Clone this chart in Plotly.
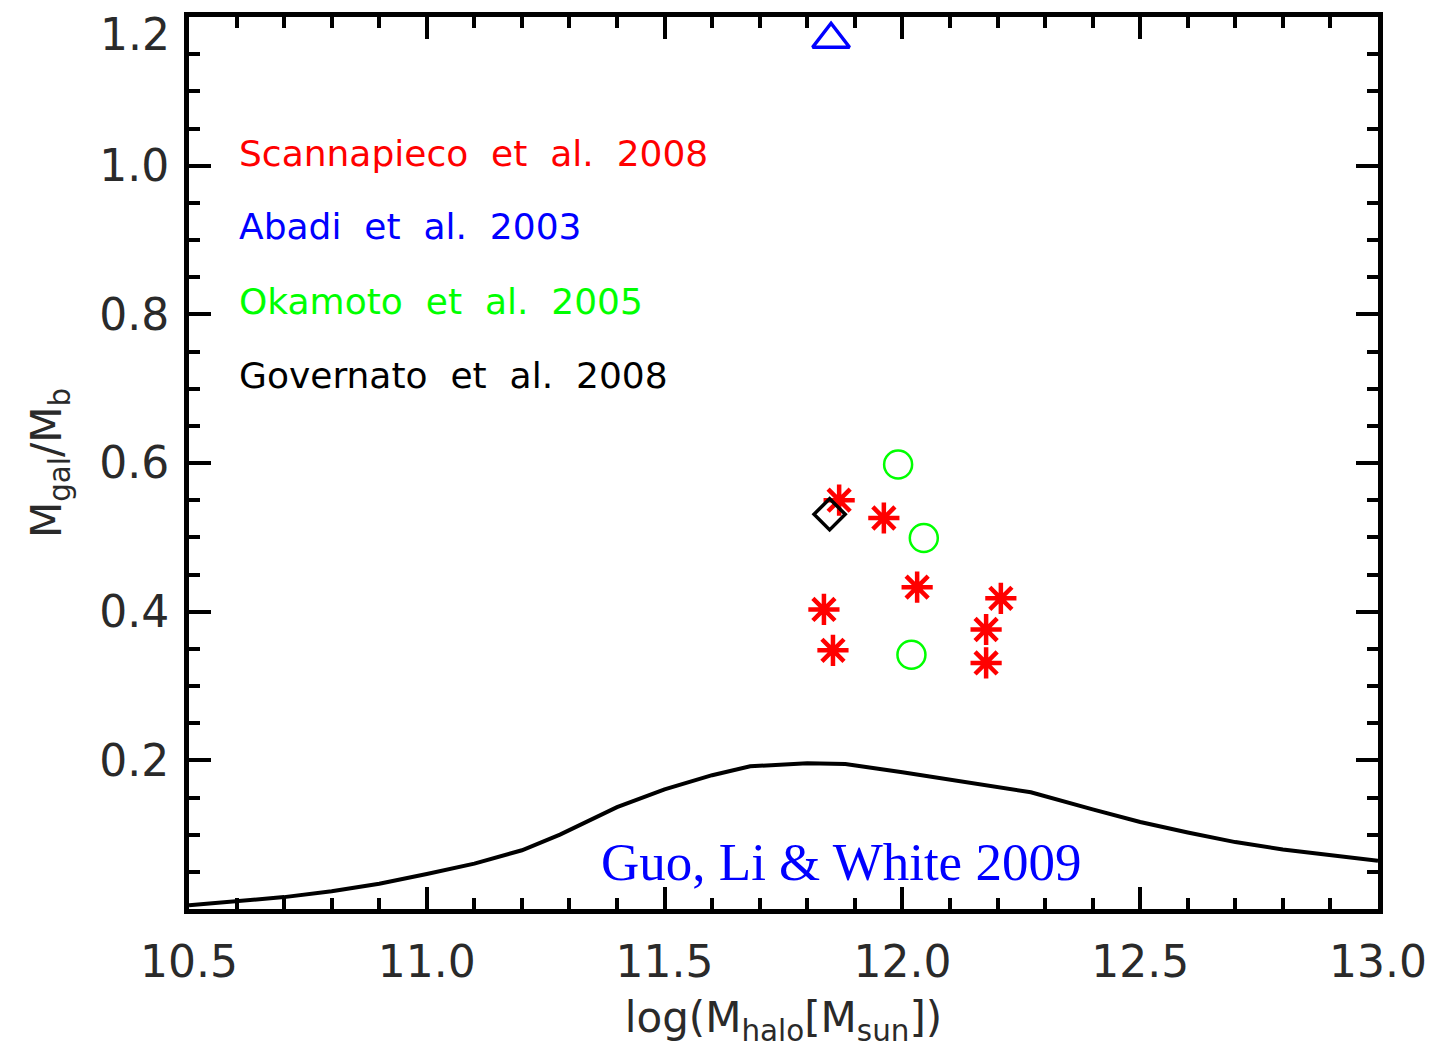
import plotly.graph_objects as go

# Guo, Li & White (2009) abundance-matching relation: M_gal/M_b vs log halo mass
curve_logm = [10.5, 10.6, 10.7, 10.8, 10.9, 11.0, 11.1, 11.2, 11.28, 11.4, 11.5, 11.6,
              11.68, 11.8, 11.88, 12.0, 12.1, 12.2, 12.27, 12.4, 12.5, 12.6, 12.7,
              12.8, 12.9, 13.0]
curve_frac = [0.005, 0.010, 0.016, 0.024, 0.034, 0.047, 0.061, 0.079, 0.100, 0.137,
              0.161, 0.180, 0.192, 0.196, 0.195, 0.184, 0.174, 0.164, 0.157, 0.134,
              0.117, 0.103, 0.090, 0.080, 0.072, 0.065]

# Simulated galaxies
scannapieco_logm = [11.867, 11.961, 12.031, 12.207, 11.835, 12.176, 11.854, 12.176]
scannapieco_frac = [0.550, 0.526, 0.433, 0.418, 0.403, 0.376, 0.348, 0.331]

abadi_logm = [11.85]
abadi_frac = [1.17]

okamoto_logm = [11.991, 12.045, 12.019]
okamoto_frac = [0.598, 0.499, 0.342]

governato_logm = [11.847]
governato_frac = [0.531]

# Axis ticks
x_ticks = [10.5, 11.0, 11.5, 12.0, 12.5, 13.0]
x_ticktext = ["10.5", "11.0", "11.5", "12.0", "12.5", "13.0"]
y_ticks = [0.2, 0.4, 0.6, 0.8, 1.0, 1.2]
y_ticktext = ["0.2", "0.4", "0.6", "0.8", "1.0", ""]

# Labels
sim_names = ["Scannapieco  et  al.  2008", "Abadi  et  al.  2003",
             "Okamoto  et  al.  2005", "Governato  et  al.  2008"]
sim_colors = ["#ff0000", "#0000ff", "#00ff00", "#000000"]
sim_label_y = [1.017, 0.918, 0.8176, 0.7172]
credit = "Guo, Li & White 2009"

sans = "DejaVu Sans"
ink = "#2a2a2a"
tick_size = 44

fig = go.Figure()

fig.add_trace(go.Scatter(x=curve_logm, y=curve_frac, mode="lines",
                         line=dict(color="black", width=4), hoverinfo="skip"))

fig.add_trace(go.Scatter(x=scannapieco_logm, y=scannapieco_frac, mode="markers",
                         marker=dict(symbol="asterisk-open", size=26, color="#ff0000",
                                     line=dict(color="#ff0000", width=4.5))))
fig.add_trace(go.Scatter(x=abadi_logm, y=abadi_frac, mode="markers",
                         marker=dict(symbol="triangle-up-open", size=32, color="#0000ff",
                                     line=dict(color="#0000ff", width=3.5))))
fig.add_trace(go.Scatter(x=okamoto_logm, y=okamoto_frac, mode="markers",
                         marker=dict(symbol="circle-open", size=28, color="#00ff00",
                                     line=dict(color="#00ff00", width=2.5))))
fig.add_trace(go.Scatter(x=governato_logm, y=governato_frac, mode="markers",
                         marker=dict(symbol="diamond-open", size=24, color="#000000",
                                     line=dict(color="#000000", width=3.5))))

annotations = []
for name, col, yy in zip(sim_names, sim_colors, sim_label_y):
    annotations.append(dict(x=10.6, y=yy, xref="x", yref="y", text=name.replace(" ", "\u00a0"),
                            showarrow=False, xanchor="left", yanchor="middle",
                            font=dict(family=sans, size=36, color=col)))

annotations.append(dict(x=11.871, y=0.063, xref="x", yref="y", text=credit,
                        showarrow=False, xanchor="center", yanchor="middle",
                        font=dict(family="Liberation Serif", size=53, color="#0000ff")))

# top y label sits just below the frame corner
annotations.append(dict(x=0, y=y_ticks[-1], xref="paper", yref="y", text="1.2",
                        showarrow=False, xanchor="right", yanchor="middle",
                        xshift=-17, yshift=-17,
                        font=dict(family=sans, size=tick_size, color=ink)))

axis_common = dict(showline=True, linecolor="black", linewidth=5, mirror="ticks",
                   ticks="inside", ticklen=22, tickwidth=4, tickcolor="black",
                   showgrid=False, zeroline=False,
                   tickfont=dict(family=sans, size=tick_size, color=ink))

fig.update_xaxes(range=[10.5, 13.0], tickmode="array", tickvals=x_ticks,
                 ticktext=x_ticktext, ticklabelstandoff=10,
                 minor=dict(ticks="inside", ticklen=11, tickwidth=4, tickcolor="black",
                            tick0=10.5, dtick=0.1, showgrid=False),
                 title=dict(text="log(M<sub>halo</sub>[M<sub>sun</sub>])",
                            font=dict(family=sans, size=42, color=ink), standoff=18),
                 **axis_common)
fig.update_yaxes(range=[0, 1.2], tickmode="array", tickvals=y_ticks,
                 ticktext=y_ticktext, ticklabelstandoff=6,
                 minor=dict(ticks="inside", ticklen=11, tickwidth=4, tickcolor="black",
                            tick0=0, dtick=0.05, showgrid=False),
                 title=dict(text="M<sub>gal</sub>/M<sub>b</sub>",
                            font=dict(family=sans, size=42, color=ink), standoff=26),
                 **axis_common)

fig.update_layout(width=1439, height=1048, showlegend=False,
                  plot_bgcolor="white", paper_bgcolor="white",
                  margin=dict(l=189, r=55, t=14, b=139),
                  annotations=annotations)

fig.write_html("out.html")
